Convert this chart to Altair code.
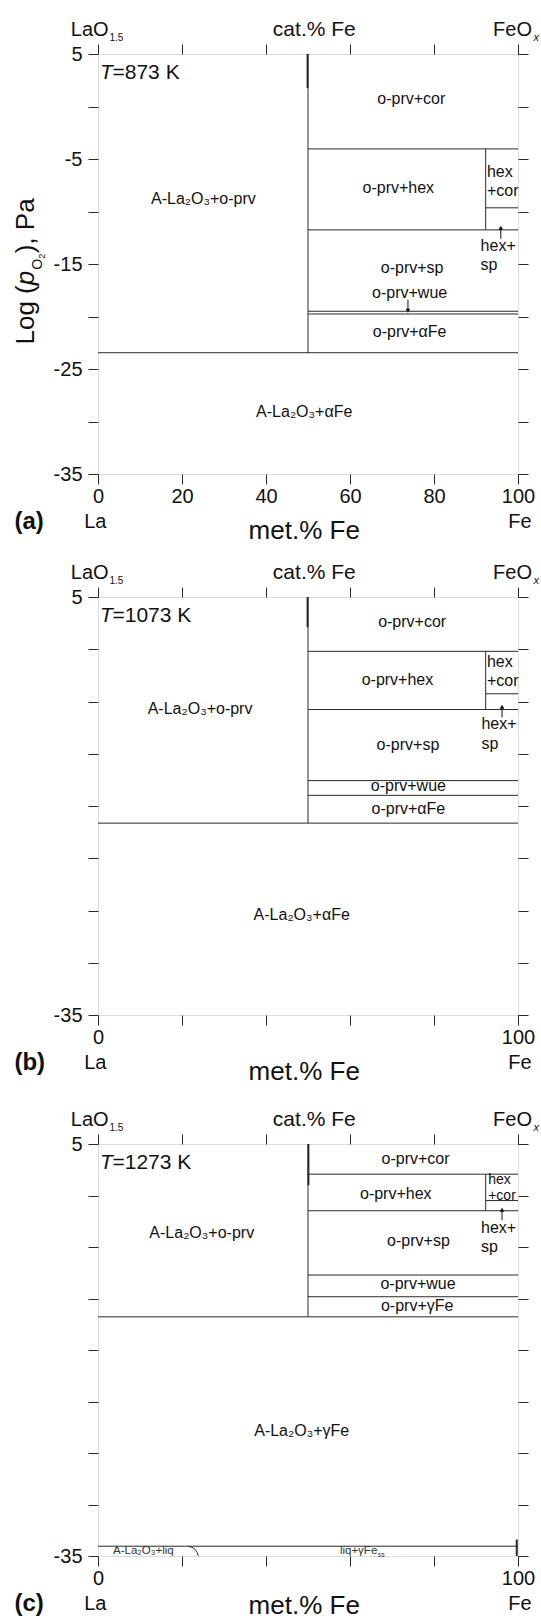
import altair as alt
import pandas as pd

FONT = "Liberation Sans"
INK = "#111111"
LINE = "#2a2a2a"
W = 420
H_A, H_B, H_C = 420, 418, 412
GAP_AB, GAP_BC = 123, 129

# ---------------- data (x: met.% Fe, y: log pO2 / Pa) ----------------
x_ticks = [0, 20, 40, 60, 80, 100]
y_ticks = [5, 0, -5, -10, -15, -20, -25, -30, -35]
temps = ["873 K", "1073 K", "1273 K"]
letters = ["(a)", "(b)", "(c)"]

# panel (a) 873 K
a_seg_x1 = [50, 0, 50, 50, 92.3, 92.3, 50, 50]
a_seg_x2 = [50, 100, 100, 100, 92.3, 100, 100, 100]
a_seg_y1 = [5, -23.45, -4.04, -11.75, -4.04, -9.65, -19.5, -19.76]
a_seg_y2 = [-23.45, -23.45, -4.04, -11.75, -11.75, -9.65, -19.5, -19.76]
a_bold_x = [49.9]
a_bold_y1 = [5]
a_bold_y2 = [1.75]
a_lab_text = ["o-prv+cor", "o-prv+hex", "o-prv+sp", "o-prv+wue", "o-prv+αFe",
              "A-La₂O₃+o-prv", "A-La₂O₃+αFe"]
a_lab_x = [74.6, 71.5, 74.8, 74.2, 74.2, 25.1, 49.1]
a_lab_y = [0.74, -7.8, -15.4, -17.8, -21.5, -8.8, -29.1]
a_hex_text = ["hex", "+cor"]
a_hex_x = [92.6, 92.6]
a_hex_y = [-6.25, -8.0]
a_sp_text = ["hex+", "sp"]
a_sp_x = [91.1, 91.1]
a_sp_y = [-13.3, -15.1]
a_up_x, a_up_from, a_up_to = [95.9], [-12.6], [-11.55]
a_dn_x, a_dn_from, a_dn_to = [73.8], [-18.4], [-19.45]

# panel (b) 1073 K
b_seg_x1 = [50, 0, 50, 50, 92.3, 92.3, 50, 50]
b_seg_x2 = [50, 100, 100, 100, 92.3, 100, 100, 100]
b_seg_y1 = [5, -16.64, -0.2, -5.77, -0.2, -4.26, -12.57, -13.98]
b_seg_y2 = [-16.64, -16.64, -0.2, -5.77, -5.77, -4.26, -12.57, -13.98]
b_bold_x = [49.9]
b_bold_y1 = [5]
b_bold_y2 = [2.1]
b_lab_text = ["o-prv+cor", "o-prv+hex", "o-prv+sp", "o-prv+wue", "o-prv+αFe",
              "A-La₂O₃+o-prv", "A-La₂O₃+αFe"]
b_lab_x = [74.8, 71.3, 73.8, 73.9, 73.9, 24.3, 48.5]
b_lab_y = [2.57, -2.9, -9.15, -13.1, -15.26, -5.67, -25.4]
b_hex_text = ["hex", "+cor"]
b_hex_x = [92.6, 92.6]
b_hex_y = [-1.2, -3.0]
b_sp_text = ["hex+", "sp"]
b_sp_x = [91.3, 91.3]
b_sp_y = [-7.2, -9.06]
b_up_x, b_up_from, b_up_to = [96.2], [-6.5], [-5.5]

# panel (c) 1273 K
c_seg_x1 = [50, 0, 50, 50, 92.3, 92.3, 50, 50, 0]
c_seg_x2 = [50, 100, 100, 100, 92.3, 100, 100, 100, 100]
c_seg_y1 = [5, -11.78, 2.07, -1.48, 2.07, -0.49, -7.72, -9.83, -34.05]
c_seg_y2 = [-11.78, -11.78, 2.07, -1.48, -1.48, -0.49, -7.72, -9.83, -34.05]
c_bold_x = [50.1, 99.7]
c_bold_y1 = [5, -33.4]
c_bold_y2 = [1.0, -35]
c_lab_text = ["o-prv+cor", "o-prv+hex", "o-prv+sp", "o-prv+wue", "o-prv+γFe",
              "A-La₂O₃+o-prv", "A-La₂O₃+γFe"]
c_lab_x = [75.6, 70.9, 76.3, 76.2, 76.0, 24.7, 48.5]
c_lab_y = [3.5, 0.16, -4.45, -8.64, -10.75, -3.6, -22.9]
c_hex_text = ["hex", "+cor"]
c_hex_x = [92.9, 92.9]
c_hex_y = [1.5, 0.0]
c_sp_text = ["hex+", "sp"]
c_sp_x = [91.2, 91.2]
c_sp_y = [-3.15, -4.96]
c_up_x, c_up_from, c_up_to = [96.2], [-2.4], [-1.38]
c_liq_text = ["A-La₂O₃+liq"]
c_liq_x = [10.8]
c_liq_y = [-34.55]
c_fe_text = ["liq+γFe"]
c_fe_x = [66.5]
c_fe_y = [-34.55]
c_arc_x = [21.4, 22.4, 23.1, 23.6, 23.9]
c_arc_y = [-34.05, -34.15, -34.35, -34.65, -35.0]

# ---------------- helpers ----------------
XS = alt.Scale(domain=[0, 100], nice=False, zero=False)
YS = alt.Scale(domain=[-35, 5], nice=False, zero=False)
ONE = pd.DataFrame({"k": [0]})


def y_expr(full):
    sign = "(datum.value < 0 ? '-' : '') + abs(datum.value)"
    cond = "datum.value % 10 != 0" if full else "(datum.value == 5 || datum.value == -35)"
    return f"{cond} ? {sign} : ''"


def x_expr(full):
    return "datum.label" if full else "(datum.value == 0 || datum.value == 100) ? datum.label : ''"


def axis(orient, values, expr=None, pad=2):
    kw = dict(orient=orient, values=values, tickSize=10, tickColor=LINE, tickWidth=1,
              domain=False, grid=False, title=None)
    if expr is None:
        kw["labels"] = False
    else:
        kw.update(labelFont=FONT, labelFontSize=20, labelColor=INK, labelFlush=False,
                  labelOverlap=False, labelExpr=expr, labelPadding=pad)
    return alt.Axis(**kw)


def note(text, px, py, size, align="center", baseline="middle", angle=None,
         italic=False, bold=False):
    kw = dict(text=text, font=FONT, fontSize=size, align=align, baseline=baseline, color=INK)
    if angle is not None:
        kw["angle"] = angle
    if italic:
        kw["fontStyle"] = "italic"
    if bold:
        kw["fontWeight"] = "bold"
    return alt.Chart(ONE).mark_text(**kw).encode(x=alt.value(px), y=alt.value(py))


def text_layer(texts, xs, ys, size, align="center", color=INK):
    df = pd.DataFrame({"t": texts, "x": xs, "y": ys})
    return alt.Chart(df).mark_text(font=FONT, fontSize=size, align=align,
                                   baseline="middle", color=color).encode(
        x=alt.X("x:Q", scale=XS, axis=None),
        y=alt.Y("y:Q", scale=YS, axis=None),
        text="t:N")


def arrow_layers(xs, y_from, y_to, shape):
    df = pd.DataFrame({"x": xs, "y0": y_from, "y1": y_to})
    shaft = alt.Chart(df).mark_rule(color=INK, strokeWidth=1).encode(
        x=alt.X("x:Q", scale=XS, axis=None),
        y=alt.Y("y0:Q", scale=YS, axis=None), y2="y1:Q")
    head = alt.Chart(df).mark_point(shape=shape, filled=True, size=22, color=INK, opacity=1).encode(
        x=alt.X("x:Q", scale=XS, axis=None),
        y=alt.Y("y1:Q", scale=YS, axis=None))
    return [shaft, head]


def panel(idx, sx1, sx2, sy1, sy2, bx, by1, by2, lt, lx, ly, ht, hx, hy, hsize,
          pt, px, py, ups, downs, H, full, extra=(), met_dy=57):
    segs = pd.DataFrame({"x1": sx1, "x2": sx2, "y1": sy1, "y2": sy2})
    bold = pd.DataFrame({"x": bx, "y1": by1, "y2": by2})
    layers = [
        alt.Chart(segs).mark_rule(color=LINE, strokeWidth=1).encode(
            x=alt.X("x1:Q", scale=XS, axis=axis("bottom", x_ticks, x_expr(full), 2)),
            x2="x2:Q",
            y=alt.Y("y1:Q", scale=YS, axis=axis("left", y_ticks, y_expr(full), 6)),
            y2="y2:Q"),
        alt.Chart(bold).mark_rule(color=LINE, strokeWidth=2).encode(
            x=alt.X("x:Q", scale=XS, axis=axis("top", x_ticks)),
            y=alt.Y("y1:Q", scale=YS, axis=axis("right", y_ticks)),
            y2="y2:Q"),
        text_layer(lt, lx, ly, 16),
        text_layer(ht, hx, hy, hsize, align="left"),
        text_layer(pt, px, py, 16, align="left"),
    ]
    for a in ups:
        layers += arrow_layers(*a, "triangle-up")
    for a in downs:
        layers += arrow_layers(*a, "triangle-down")
    layers += list(extra)
    # labels around the frame
    layers += [
        note("LaO", 10.6, -18, 20, align="right", baseline="alphabetic"),
        note("1.5", 11.5, -13, 10, align="left", baseline="alphabetic"),
        note("cat.% Fe", 0.515 * W, -18, 21, baseline="alphabetic"),
        note("FeO", 434, -18, 20, align="right", baseline="alphabetic"),
        note("x", 435.5, -13, 11, align="left", baseline="alphabetic", italic=True),
        note("T", 2, 25, 21, align="left", baseline="alphabetic", italic=True),
        note("=" + temps[idx], 14.5, 25, 21, align="left", baseline="alphabetic"),
        note(letters[idx], -83.6, H + 48, 24, align="left", bold=True),
        note("La", -2.7, H + 48, 20),
        note("Fe", W + 2, H + 48, 20),
        note("met.% Fe", 0.491 * W, H + met_dy, 26),
    ]
    if idx == 0:
        bx0 = -63.7
        layers += [
            note("Log (", bx0, 290.5, 26, align="left", baseline="alphabetic", angle=270),
            note("p", bx0, 231.2, 26, align="left", baseline="alphabetic", angle=270, italic=True),
            note("O", bx0 + 7.7, 215.7, 14, align="left", baseline="alphabetic", angle=270),
            note("2", bx0 + 10.7, 204.8, 9, align="left", baseline="alphabetic", angle=270),
            note("), Pa", bx0, 199.3, 26, align="left", baseline="alphabetic", angle=270),
        ]
    return alt.layer(*layers).resolve_axis(x="independent", y="independent").properties(
        width=W, height=H)


def spacer(h):
    return alt.Chart(ONE).mark_point(opacity=0).encode(
        x=alt.value(0), y=alt.value(0)).properties(
        width=W, height=h, view=alt.ViewBackground(strokeOpacity=0))


# panel (c) extras
arc_df = pd.DataFrame({"x": c_arc_x, "y": c_arc_y, "o": list(range(len(c_arc_x)))})
c_extra = [
    text_layer(c_liq_text, c_liq_x, c_liq_y, 11.5, color="#333333"),
    text_layer(c_fe_text, c_fe_x, c_fe_y, 11.5, align="right", color="#333333"),
    alt.Chart(pd.DataFrame({"x": c_fe_x, "y": c_fe_y})).mark_text(
        text="ss", font=FONT, fontSize=7, align="left", baseline="middle", dy=4, dx=0.5,
        color="#333333").encode(
        x=alt.X("x:Q", scale=XS, axis=None), y=alt.Y("y:Q", scale=YS, axis=None)),
    alt.Chart(arc_df).mark_line(color=LINE, strokeWidth=1).encode(
        x=alt.X("x:Q", scale=XS, axis=None), y=alt.Y("y:Q", scale=YS, axis=None), order="o:Q"),
]

pa = panel(0, a_seg_x1, a_seg_x2, a_seg_y1, a_seg_y2, a_bold_x, a_bold_y1, a_bold_y2,
           a_lab_text, a_lab_x, a_lab_y, a_hex_text, a_hex_x, a_hex_y, 16,
           a_sp_text, a_sp_x, a_sp_y,
           [(a_up_x, a_up_from, a_up_to)], [(a_dn_x, a_dn_from, a_dn_to)], H_A, True)
pb = panel(1, b_seg_x1, b_seg_x2, b_seg_y1, b_seg_y2, b_bold_x, b_bold_y1, b_bold_y2,
           b_lab_text, b_lab_x, b_lab_y, b_hex_text, b_hex_x, b_hex_y, 16,
           b_sp_text, b_sp_x, b_sp_y,
           [(b_up_x, b_up_from, b_up_to)], [], H_B, False)
pc = panel(2, c_seg_x1, c_seg_x2, c_seg_y1, c_seg_y2, c_bold_x, c_bold_y1, c_bold_y2,
           c_lab_text, c_lab_x, c_lab_y, c_hex_text, c_hex_x, c_hex_y, 14,
           c_sp_text, c_sp_x, c_sp_y,
           [(c_up_x, c_up_from, c_up_to)], [], H_C, False, c_extra, met_dy=50)

chart = alt.vconcat(pa, spacer(GAP_AB), pb, spacer(GAP_BC), pc, spacing=0, bounds="flush").properties(
    padding={"left": 12, "top": 18, "right": 0, "bottom": 0}
).configure_view(stroke=LINE, strokeWidth=1).configure(background="white")

chart.save("out.html", embed_options={"renderer": "svg", "actions": False})
